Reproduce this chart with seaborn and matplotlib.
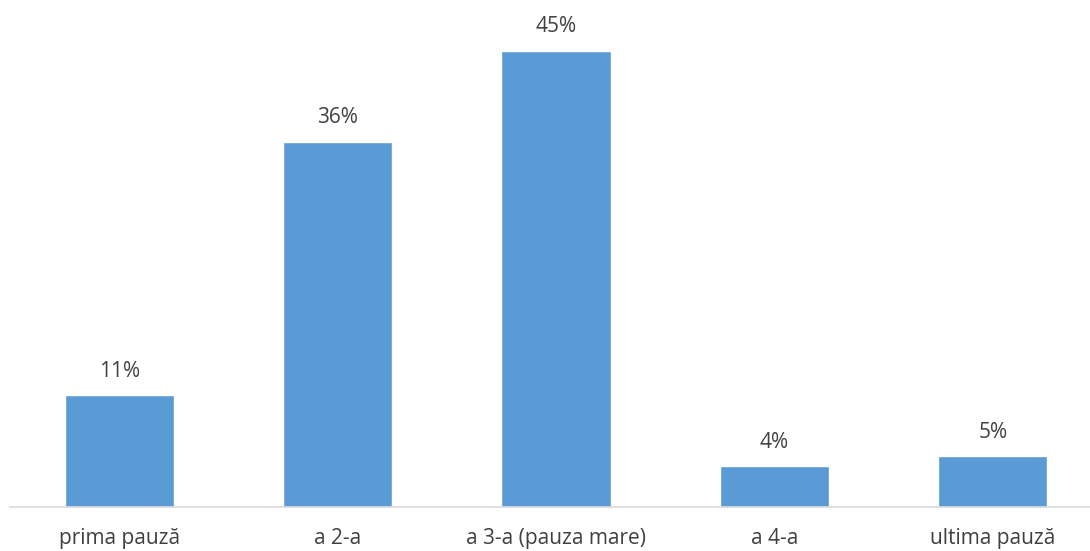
import pandas as pd
import seaborn as sns
import matplotlib.pyplot as plt

categories = ["prima pauză", "a 2-a", "a 3-a (pauza mare)", "a 4-a", "ultima pauză"]
values = [11, 36, 45, 4, 5]
labels = ["11%", "36%", "45%", "4%", "5%"]

sns.set_theme(style="white")
plt.rcParams["font.family"] = ["Open Sans", "DejaVu Sans"]

df = pd.DataFrame({"Pauza": categories, "Procent": values})

fig = plt.figure(figsize=(10.9, 5.51), dpi=100)
ax = fig.add_axes([10 / 1090, 44 / 551, 1092 / 1090, 507 / 551])

sns.barplot(data=df, x="Pauza", y="Procent", color="#5B9BD5", width=0.5,
            saturation=1, ax=ax)

# value labels above bars
for i, (v, lab) in enumerate(zip(values, labels)):
    ax.text(i, v + 1.35, lab, ha="center", va="bottom", fontsize=15, color="#404040")

ax.set_ylim(0, 50)
ax.set_xlim(-0.5, 4.5)
ax.set_xlabel("")
ax.set_ylabel("")
ax.set_yticks([])
ax.tick_params(axis="x", length=0, pad=15, labelsize=15, labelcolor="#404040")
for side in ["top", "right", "left"]:
    ax.spines[side].set_visible(False)
ax.spines["bottom"].set_color("#D9D9D9")
ax.spines["bottom"].set_linewidth(1.2)

fig.savefig("out.png", dpi=100)
